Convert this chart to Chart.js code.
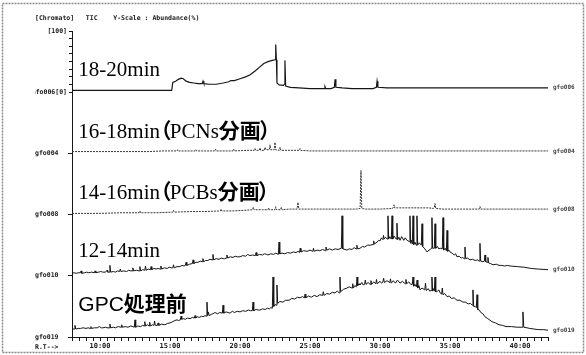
<!DOCTYPE html>
<html><head><meta charset="utf-8">
<script src="https://cdn.jsdelivr.net/npm/chart.js@4/dist/chart.umd.min.js"></script>
<style>html,body{margin:0;padding:0;background:#fff;}</style>
</head><body>
<canvas id="c" width="586" height="355"></canvas>
<script>
// ---------- text ----------
const headerText = '[Chromato]   TIC    Y-Scale : Abundance(%)';
const rtText = 'R.T-->';
const topScaleLabel = '[100]';
const panelTitles = ['18-20min', '16-18min（PCNs分画）', '14-16min（PCBs分画）', '12-14min', 'GPC処理前'];
const leftTags = ['gfo006[0]', 'gfo004', 'gfo008', 'gfo010', 'gfo019'];
const rightTags = ['gfo006', 'gfo004', 'gfo008', 'gfo010', 'gfo019'];

// ---------- data: [retention time (min), abundance (% of panel)] ----------
const trace18_20 = [[8.0,3],[10,3],[12,3],[14,3],[15.12,3],[15.2,16],[15.4,18],[15.6,21],[15.8,23],[15.95,22],[16.15,18],[16.4,16],[16.7,15],[17.0,14],[17.3,14],[17.36,18],[17.42,14],[17.8,13],[18.3,13],[18.8,15],[19.2,17],[19.35,19],[19.6,19],[20.0,22],[20.4,25],[20.7,28],[21.1,35],[21.4,41],[21.7,47],[22.0,50],[22.3,52],[22.5,53],[22.55,78],[22.6,53],[22.64,15],[22.8,12],[23.1,11],[23.17,13],[23.21,52],[23.26,10],[23.6,8],[24.2,7],[25.0,6],[25.8,6],[26.02,6],[26.07,9],[26.12,6],[26.5,6],[26.74,8],[26.79,21],[26.85,8],[27.3,7],[28.0,6],[29.0,6],[29.5,6],[29.74,8],[29.79,18],[29.85,8],[30.5,7],[32,7],[34,7],[36,7],[38,7],[40,7],[42,7]];

const trace16_18 = [[8,3],[10,3],[12,3],[13.5,3],[14.5,4],[15.5,4],[15.55,6],[15.6,4],[16.8,4],[16.85,6],[16.9,4],[18.2,4],[18.25,7],[18.3,4],[19.5,4],[19.55,7],[19.6,4],[20.5,5],[21.02,5],[21.07,8],[21.12,5],[21.38,5],[21.43,9],[21.48,5],[21.74,5],[21.79,10],[21.84,6],[22.09,6],[22.14,14],[22.2,6],[22.45,6],[22.5,18],[22.55,6],[22.81,5],[22.86,10],[22.92,5],[23.5,5],[24.24,5],[24.29,8],[24.34,5],[25,4],[26,4],[28,4],[30,4],[32,4],[34,4],[36,4],[38,4],[40,4],[42,4]];

const trace14_16 = [[8,2],[10,2],[11.5,3],[12.8,3],[12.85,6],[12.9,3],[14,3],[15.2,4],[15.25,7],[15.3,4],[16.5,5],[17.5,5],[18.6,6],[18.65,9],[18.7,6],[19.5,6],[20.3,7],[20.9,8],[20.95,12],[21.0,8],[21.6,8],[22.0,8],[22.05,11],[22.1,8],[22.5,8],[22.55,13],[22.6,8],[22.9,8],[22.95,12],[23.0,8],[23.5,9],[24.08,9],[24.14,20],[24.2,9],[24.6,9],[25.5,9],[26.5,9],[27.5,9],[28.3,9],[28.58,10],[28.64,72],[28.7,10],[29.0,9],[30.0,9],[30.9,10],[30.95,12],[31.0,16],[31.05,11],[31.5,11],[32.5,11],[33.5,11],[33.8,10],[33.88,11],[33.93,18],[33.98,10],[34.5,9],[35.5,9],[36.5,9],[37.09,9],[37.14,13],[37.2,9],[38,9],[39,9],[40,9],[41,9],[42,9]];

const trace12_14 = [[8.0,4],[8.15,5],[8.3,4],[8.45,5],[8.6,5],[8.65,8],[8.7,4],[8.9,5],[9.05,6],[9.2,5],[9.4,6],[9.6,5],[9.65,8],[9.7,5],[9.9,6],[10.05,7],[10.2,6],[10.4,6],[10.5,9],[10.55,6],[10.66,6],[10.71,17],[10.76,6],[10.95,7],[11.1,6],[11.25,8],[11.4,7],[11.45,11],[11.5,7],[11.7,8],[11.9,7],[12.05,9],[12.2,8],[12.3,8],[12.35,13],[12.4,8],[12.6,9],[12.8,8],[12.85,15],[12.9,8],[13.05,10],[13.2,9],[13.25,16],[13.3,9],[13.45,11],[13.6,10],[13.65,15],[13.7,10],[13.85,12],[14.0,11],[14.15,12],[14.3,11],[14.35,16],[14.4,11],[14.6,13],[14.8,12],[14.95,14],[15.1,13],[15.2,13],[15.25,18],[15.3,13],[15.5,15],[15.7,15],[15.85,17],[16.0,16],[16.1,17],[16.15,22],[16.2,17],[16.4,19],[16.6,20],[16.65,26],[16.7,20],[16.85,22],[17.0,22],[17.15,24],[17.3,23],[17.35,28],[17.4,23],[17.55,25],[17.7,25],[17.85,27],[18.02,26],[18.07,35],[18.12,26],[18.3,28],[18.5,27],[18.65,29],[18.8,28],[18.9,28],[19.02,29],[19.07,34],[19.12,29],[19.3,31],[19.5,30],[19.65,32],[19.8,31],[20.0,31],[20.2,33],[20.4,32],[20.55,35],[20.7,33],[20.9,34],[21.1,33],[21.15,38],[21.2,33],[21.4,35],[21.6,34],[21.75,36],[21.9,35],[22.0,34],[22.2,36],[22.4,35],[22.55,37],[22.74,35],[22.79,55],[22.84,36],[23.0,37],[23.2,36],[23.4,38],[23.6,37],[23.8,39],[24.0,38],[24.15,40],[24.25,38],[24.3,45],[24.35,39],[24.55,41],[24.8,40],[25.0,42],[25.2,40],[25.25,45],[25.3,40],[25.5,42],[25.7,41],[25.9,43],[26.1,41],[26.14,47],[26.2,42],[26.4,44],[26.6,42],[26.8,44],[27.0,43],[27.24,45],[27.29,98],[27.34,44],[27.5,43],[27.64,42],[27.8,44],[28.0,43],[28.15,46],[28.3,44],[28.35,50],[28.4,44],[28.57,45],[28.75,48],[28.9,47],[29.1,50],[29.29,50],[29.5,51],[29.55,57],[29.6,52],[29.79,55],[29.9,58],[30.0,57],[30.1,62],[30.21,59],[30.25,66],[30.3,60],[30.4,63],[30.52,60],[30.57,98],[30.62,60],[30.7,64],[30.81,60],[30.86,98],[30.91,60],[31.0,65],[31.16,60],[31.21,86],[31.26,59],[31.35,63],[31.43,58],[31.55,64],[31.7,58],[31.8,62],[31.93,58],[32.09,56],[32.14,98],[32.19,53],[32.25,58],[32.31,52],[32.36,98],[32.41,51],[32.5,55],[32.59,50],[32.64,98],[32.69,50],[32.8,54],[32.95,50],[33.0,85],[33.05,48],[33.2,44],[33.36,39],[33.5,42],[33.6,43],[33.66,45],[33.71,95],[33.76,45],[33.88,45],[33.93,85],[33.98,45],[34.1,48],[34.2,44],[34.3,45],[34.45,44],[34.5,95],[34.55,42],[34.65,45],[34.74,41],[34.79,74],[34.84,40],[34.92,42],[35.0,39],[35.15,37],[35.3,34],[35.4,36],[35.5,31],[35.65,32],[35.8,29],[35.9,30],[36.02,28],[36.07,47],[36.12,28],[36.25,29],[36.43,26],[36.6,27],[36.8,25],[36.95,26],[37.09,24],[37.14,53],[37.19,24],[37.36,23],[37.45,24],[37.5,34],[37.55,23],[37.66,22],[37.71,30],[37.76,21],[37.9,20],[38.07,18],[38.3,19],[38.5,17],[38.7,17],[38.9,16],[39.1,17],[39.3,16],[39.8,15],[40.3,14],[40.8,12],[41.3,11],[42.0,10]];

const traceGPC = [[8.0,13],[8.15,13],[8.21,19],[8.27,13],[8.45,14],[8.6,14],[8.8,15],[9.0,14],[9.15,15],[9.3,14],[9.35,17],[9.4,14],[9.6,15],[9.8,15],[9.95,17],[10.1,15],[10.2,15],[10.4,16],[10.5,15],[10.66,15],[10.71,21],[10.76,15],[10.95,16],[11.1,15],[11.3,17],[11.5,16],[11.55,20],[11.6,16],[11.8,17],[12.0,16],[12.2,18],[12.35,17],[12.45,16],[12.5,28],[12.55,16],[12.7,18],[12.9,17],[13.05,19],[13.15,18],[13.2,25],[13.25,18],[13.4,20],[13.5,18],[13.55,24],[13.6,18],[13.75,20],[13.85,19],[13.9,26],[13.95,19],[14.1,19],[14.15,23],[14.2,19],[14.4,21],[14.64,20],[14.8,22],[15.0,23],[15.2,25],[15.35,27],[15.5,28],[15.6,27],[15.74,28],[15.79,34],[15.84,29],[15.95,30],[16.1,29],[16.25,31],[16.43,30],[16.6,32],[16.74,31],[16.79,35],[16.84,31],[16.95,33],[17.1,32],[17.25,34],[17.36,33],[17.5,35],[17.59,34],[17.64,57],[17.69,35],[17.74,41],[17.8,35],[17.95,37],[18.07,38],[18.2,40],[18.4,38],[18.55,40],[18.74,39],[18.79,52],[18.84,39],[19.0,41],[19.15,40],[19.29,39],[19.45,42],[19.6,40],[19.8,42],[20.0,41],[20.2,43],[20.4,42],[20.6,44],[20.75,43],[20.88,43],[20.93,57],[20.98,43],[21.15,45],[21.3,44],[21.43,44],[21.6,46],[21.8,45],[21.95,47],[22.1,46],[22.2,48],[22.31,47],[22.36,98],[22.41,50],[22.5,53],[22.59,52],[22.64,85],[22.69,55],[22.85,58],[23.07,57],[23.25,60],[23.5,60],[23.7,63],[23.9,62],[24.1,65],[24.29,64],[24.45,66],[24.6,64],[24.65,70],[24.7,64],[24.9,67],[25.1,65],[25.3,68],[25.5,66],[25.7,69],[25.9,68],[25.95,74],[26.0,68],[26.2,71],[26.4,70],[26.6,73],[26.79,72],[26.95,75],[27.09,72],[27.14,98],[27.19,74],[27.4,78],[27.64,80],[27.8,82],[28.0,80],[28.05,87],[28.1,80],[28.2,84],[28.31,82],[28.36,98],[28.41,84],[28.5,87],[28.57,85],[28.7,89],[28.8,85],[28.9,86],[28.95,93],[29.0,86],[29.15,89],[29.3,86],[29.35,92],[29.4,86],[29.55,90],[29.7,87],[29.75,94],[29.8,87],[30.0,91],[30.1,88],[30.21,90],[30.26,96],[30.31,89],[30.5,92],[30.7,89],[30.75,95],[30.8,88],[30.95,92],[31.1,88],[31.25,93],[31.43,88],[31.6,91],[31.8,87],[31.85,94],[31.9,87],[32.05,90],[32.2,86],[32.31,86],[32.36,98],[32.41,83],[32.5,86],[32.6,82],[32.65,93],[32.7,80],[32.78,84],[32.86,77],[33.0,80],[33.2,77],[33.25,88],[33.3,76],[33.45,79],[33.55,75],[33.66,76],[33.71,98],[33.76,75],[33.82,79],[33.88,75],[33.93,98],[33.98,74],[34.07,74],[34.2,77],[34.3,72],[34.4,70],[34.45,80],[34.5,69],[34.62,71],[34.79,66],[34.95,67],[35.1,63],[35.3,64],[35.5,60],[35.7,60],[35.93,57],[36.1,57],[36.3,54],[36.45,55],[36.59,52],[36.64,77],[36.69,50],[36.8,50],[36.88,48],[36.93,69],[36.98,45],[37.1,44],[37.2,40],[37.35,38],[37.5,33],[37.7,30],[38.0,25],[38.25,23],[38.5,20],[38.75,19],[39.0,17],[39.4,17],[39.8,16],[40.15,16],[40.21,41],[40.27,16],[40.5,15],[40.7,14],[41.0,13],[41.3,12],[41.7,12],[42.0,11]];

const traces = [trace18_20, trace16_18, trace14_16, trace12_14, traceGPC];
const panelIds = ['p1', 'p2', 'p3', 'p4', 'p5'];

// ---------- styling / layout ----------
const MONO = "'DejaVu Sans Mono', 'Liberation Mono', monospace";
const ink = '#161616';
const titleBaselinePct = [27, 25, 25, 31, 42.5];
const titleFamilies = ["'Liberation Serif'", "'Liberation Serif'", "'Liberation Serif'", "'Liberation Serif'", "'Liberation Sans'"];

function fixWidth(scale) { scale.width = 37; scale.paddingTop = 0; scale.paddingBottom = 0; }

const scales = {
  x: {
    type: 'linear', position: 'bottom', min: 8, max: 42,
    border: { display: true, color: ink, width: 1 },
    grid: { drawOnChartArea: false, drawTicks: true, tickLength: 4, color: ink, lineWidth: 1 },
    ticks: {
      stepSize: 0.5, autoSkip: false, maxRotation: 0, padding: 1, color: ink,
      font: { family: MONO, size: 7, weight: 'bold' },
      callback: (v) => (Math.abs(v - Math.round(v)) < 1e-6 && Math.round(v) % 5 === 0) ? Math.round(v) + ':00' : ''
    },
    afterFit: (s) => { s.height = 18; s.paddingLeft = 0; s.paddingRight = 0; }
  }
};
// bottom panel first, so the last-defined (top) panel is placed at the top of the stack
for (let i = 4; i >= 0; i--) {
  const top = i === 0;
  scales[panelIds[i]] = {
    type: 'linear', position: 'left', stack: 'panels', stackWeight: 1, weight: 5 - i,
    min: 0, max: 100, offset: false,
    border: { display: true, color: ink, width: 1 },
    grid: { drawOnChartArea: false, drawTicks: true, tickLength: top ? 3 : 4, color: ink, lineWidth: 1 },
    ticks: {
      autoSkip: false, padding: 2, color: ink, crossAlign: top ? 'near' : 'far',
      font: { family: MONO, size: 6.5, weight: 'bold' },
      callback: (v) => v === 0 ? leftTags[i] : (top && v === 100 ? topScaleLabel : '')
    },
    afterBuildTicks: (s) => {
      s.ticks = top ? [0, 12.5, 25, 37.5, 50, 62.5, 75, 87.5, 100].map(v => ({ value: v })) : [{ value: 0 }];
    },
    afterFit: fixWidth
  };
}

const datasets = traces.map((tr, i) => ({
  label: panelTitles[i],
  data: tr.map(([x, y]) => ({ x, y })),
  yAxisID: panelIds[i],
  borderColor: (i === 1 || i === 2) ? '#3a3a3a' : ink,
  borderWidth: i === 0 ? 1.2 : 1,
  borderDash: (i === 1 || i === 2) ? [2, 1] : [],
  pointRadius: 0, tension: 0, fill: false
}));

function drawMixed(ctx, text, x, y, size, latinFamily) {
  let cx = x;
  for (const ch of text) {
    const code = ch.codePointAt(0);
    const cjk = code >= 0x2E80;
    ctx.font = (cjk ? 'bold ' : 'normal ') + size + 'px ' + (cjk ? "'Noto Sans CJK JP'" : latinFamily);
    if (ch === '（') { ctx.fillText(ch, cx - 0.45 * size, y); cx += 0.47 * size; continue; }
    if (ch === '）') { ctx.fillText(ch, cx - 0.08 * size, y); cx += 0.45 * size; continue; }
    ctx.fillText(ch, cx, y);
    cx += ctx.measureText(ch).width;
  }
}

const decor = {
  id: 'decor',
  beforeDraw(chart) {
    const ctx = chart.ctx;
    ctx.save();
    ctx.fillStyle = '#fff';
    ctx.fillRect(0, 0, chart.width, chart.height);
    ctx.strokeStyle = '#8a8a8a';
    ctx.lineWidth = 1.5;
    ctx.setLineDash([2, 1]);
    ctx.strokeRect(2.5, 3.5, chart.width - 5, chart.height - 6);
    ctx.restore();
  },
  afterDatasetsDraw(chart) {
    const ctx = chart.ctx;
    const xs = chart.scales.x;
    ctx.save();
    ctx.fillStyle = ink;
    ctx.textBaseline = 'middle';
    ctx.textAlign = 'left';
    ctx.font = 'bold 6.5px ' + MONO;
    ctx.fillText(headerText, 35, 18);
    ctx.fillText(rtText, 35, 347);
    // right-end tags
    ctx.fillStyle = '#444';
    ctx.font = 'bold 6px ' + MONO;
    traces.forEach((tr, i) => {
      const last = tr[tr.length - 1];
      const ys = chart.scales[panelIds[i]];
      ctx.fillText(rightTags[i], xs.getPixelForValue(last[0]) + 5, ys.getPixelForValue(last[1]));
    });
    // panel titles
    ctx.fillStyle = '#000';
    ctx.textBaseline = 'alphabetic';
    panelTitles.forEach((t, i) => {
      const ys = chart.scales[panelIds[i]];
      drawMixed(ctx, t, xs.getPixelForValue(8.45), ys.getPixelForValue(titleBaselinePct[i]), 21, titleFamilies[i]);
    });
    ctx.restore();
  }
};

new Chart(document.getElementById('c'), {
  type: 'line',
  data: { datasets },
  options: {
    responsive: false, animation: false, parsing: true,
    layout: { padding: { left: 35, top: 31, right: 38, bottom: 0 } },
    plugins: { legend: { display: false }, tooltip: { enabled: false } },
    scales
  },
  plugins: [decor]
});
</script>
</body></html>
